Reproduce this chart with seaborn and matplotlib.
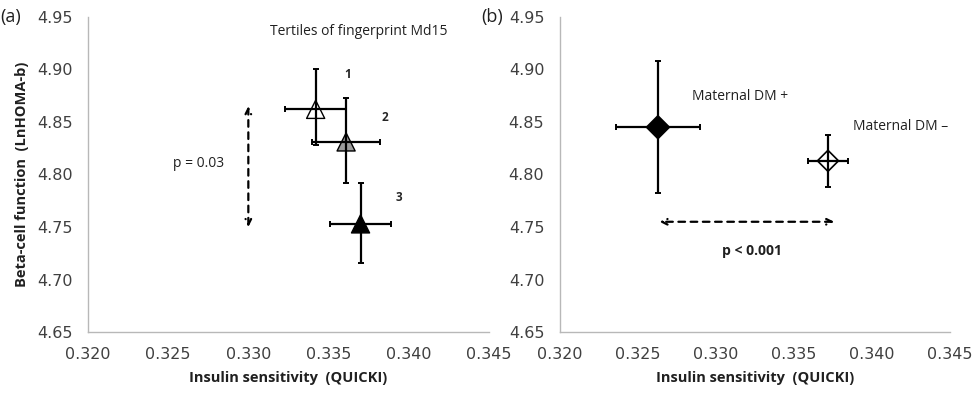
import numpy as np
import pandas as pd
import matplotlib
matplotlib.use("Agg")
import matplotlib.pyplot as plt
import seaborn as sns

sns.set_style("white")
plt.rcParams["font.family"] = ["Open Sans", "DejaVu Sans"]

# panel (a): tertiles of fingerprint Md15
tertile = ["1", "2", "3"]
tert_x = [0.3342, 0.3361, 0.3370]
tert_y = [4.862, 4.831, 4.753]
tert_xerr = [0.0019, 0.0021, 0.0019]
tert_yerr_lo = [0.034, 0.039, 0.037]
tert_yerr_hi = [0.038, 0.042, 0.039]
tert_face = ["white", "#9a9a9a", "black"]

# panel (b): maternal diabetes
dm_group = ["Maternal DM +", "Maternal DM \u2013"]
dm_x = [0.3263, 0.3372]
dm_y = [4.845, 4.813]
dm_xerr = [0.0027, 0.0013]
dm_yerr_lo = [0.063, 0.025]
dm_yerr_hi = [0.063, 0.025]
dm_face = ["black", "white"]
dm_size = [135, 115]

xticks = [0.320, 0.325, 0.330, 0.335, 0.340, 0.345]
yticks = [4.65, 4.70, 4.75, 4.80, 4.85, 4.90, 4.95]

fig = plt.figure(figsize=(9.75, 3.93), dpi=100)
ax_a = fig.add_axes([0.0903, 0.155, 0.411, 0.802])
ax_b = fig.add_axes([0.574, 0.155, 0.400, 0.802])

df_a = pd.DataFrame({"x": tert_x, "y": tert_y, "tertile": tertile})
df_b = pd.DataFrame({"x": dm_x, "y": dm_y, "group": dm_group, "sz": dm_size})

sns.scatterplot(data=df_a, x="x", y="y", hue="tertile", palette=tert_face,
                marker="^", s=170, edgecolor="black", linewidth=1.0,
                legend=False, ax=ax_a, zorder=2)
ax_a.errorbar(tert_x, tert_y, xerr=tert_xerr, yerr=[tert_yerr_lo, tert_yerr_hi],
              fmt="none", ecolor="black", elinewidth=1.6, capsize=2.5, capthick=1.4, zorder=3)

sns.scatterplot(data=df_b, x="x", y="y", hue="group", palette=dm_face,
                size="sz", sizes=(min(dm_size), max(dm_size)),
                marker="D", edgecolor="black", linewidth=1.2,
                legend=False, ax=ax_b, zorder=2)
ax_b.errorbar(dm_x, dm_y, xerr=dm_xerr, yerr=[dm_yerr_lo, dm_yerr_hi],
              fmt="none", ecolor="black", elinewidth=1.6, capsize=2.5, capthick=1.4, zorder=3)

for ax in (ax_a, ax_b):
    ax.set_xlim(0.320, 0.345)
    ax.set_ylim(4.65, 4.95)
    ax.set_xticks(xticks)
    ax.set_xticklabels([f"{v:.3f}" for v in xticks])
    ax.set_yticks(yticks)
    ax.set_yticklabels([f"{v:.2f}" for v in yticks])
    for side in ("top", "right"):
        ax.spines[side].set_visible(False)
    for side in ("left", "bottom"):
        ax.spines[side].set_color("#b8b8b8")
        ax.spines[side].set_linewidth(1.0)
    ax.tick_params(axis="both", which="major", direction="out", length=5, width=1.0,
                   color="#b8b8b8", labelcolor="#404040", labelsize=11.5, pad=6)
    for lab in ax.get_xticklabels() + ax.get_yticklabels():
        lab.set_family("DejaVu Sans")
    ax.set_xlabel("Insulin sensitivity  (QUICKI)", fontsize=10.5, fontweight="bold",
                  color="#202020", labelpad=6)
    ax.set_ylabel("")

ax_a.set_ylabel("Beta-cell function  (LnHOMA-b)", fontsize=10.5, fontweight="bold",
                color="#202020", labelpad=6)

# annotations panel (a)
ax_a.text(0.3369, 4.936, "Tertiles of fingerprint Md15", ha="center", va="center",
          fontsize=10, color="#202020")
for lab, tx, ty in zip(tertile, [0.3362, 0.3385, 0.3394], [4.895, 4.854, 4.778]):
    ax_a.text(tx, ty, lab, ha="center", va="center", fontsize=8.5, fontweight="bold")
ax_a.annotate("", xy=(0.330, 4.865), xytext=(0.330, 4.750),
              arrowprops=dict(arrowstyle="<->", linestyle=(0, (3, 2.5)), lw=1.6,
                              color="black", shrinkA=0, shrinkB=0))
ax_a.text(0.3269, 4.810, "p = 0.03", ha="center", va="center", fontsize=10, color="#202020")

# annotations panel (b)
ax_b.text(0.32846, 4.874, dm_group[0], ha="left", va="center", fontsize=10, color="#202020")
ax_b.text(0.33878, 4.846, dm_group[1], ha="left", va="center", fontsize=10, color="#202020")
ax_b.annotate("", xy=(0.3264, 4.755), xytext=(0.3376, 4.755),
              arrowprops=dict(arrowstyle="<->", linestyle=(0, (3, 2.5)), lw=1.6,
                              color="black", shrinkA=0, shrinkB=0))
ax_b.text(0.3323, 4.727, "p < 0.001", ha="center", va="center", fontsize=10,
          fontweight="bold", color="#202020")

fig.text(0.0, 0.957, "(a)", ha="left", va="center", fontsize=13, color="#202020")
fig.text(0.494, 0.957, "(b)", ha="left", va="center", fontsize=13, color="#202020")

fig.savefig("out.png", dpi=100)
